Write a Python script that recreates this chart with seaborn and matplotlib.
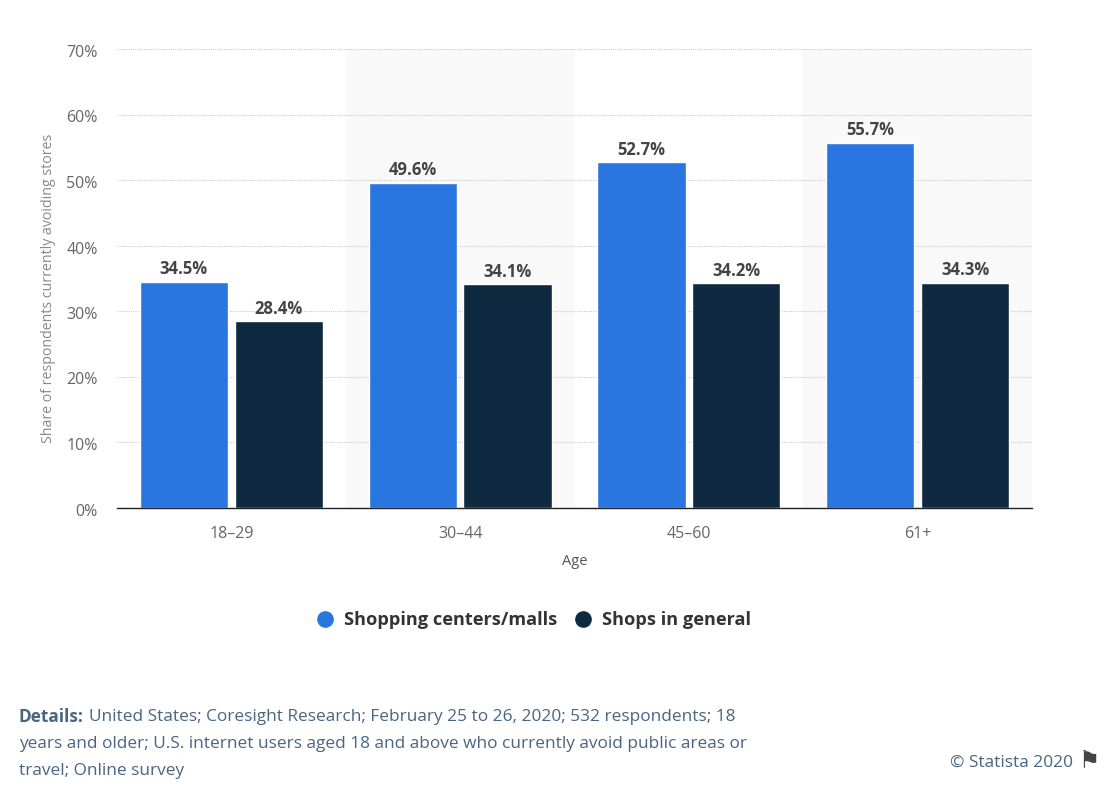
import pandas as pd
import seaborn as sns
import matplotlib.pyplot as plt
from matplotlib.lines import Line2D
from matplotlib.transforms import ScaledTranslation

ages = ['18\u201329', '30\u201344', '45\u201360', '61+']
malls = [34.5, 49.6, 52.7, 55.7]
shops = [28.4, 34.1, 34.2, 34.3]
series_names = ['Shopping centers/malls', 'Shops in general']
y_ticks = [0, 10, 20, 30, 40, 50, 60, 70]

details_lines = [
    'United States; Coresight Research; February 25 to 26, 2020; 532 respondents; 18',
    'years and older; U.S. internet users aged 18 and above who currently avoid public areas or',
    'travel; Online survey',
]

df = pd.DataFrame({'age': ages * 2,
                   'share': malls + shops,
                   'series': [series_names[0]] * 4 + [series_names[1]] * 4})

sns.set_style('white')
plt.rcParams['font.family'] = ['Open Sans', 'DejaVu Sans']

W, H = 1117, 795
colors = ['#2976e0', '#0f2a40']

fig = plt.figure(figsize=(W / 100, H / 100), dpi=100)
ax = fig.add_axes([117 / W, 1 - 507.5 / H, 915 / W, 458.5 / H])

sns.barplot(data=df, x='age', y='share', hue='series', palette=colors,
            width=0.83, gap=0.07, saturation=1, legend=False, ax=ax, zorder=3)

ax.set_xlim(-0.5, 3.5)
ax.set_ylim(0, 70)

# alternating background bands
for i in [1, 3]:
    ax.axvspan(i - 0.5, i + 0.5, color='#f9f9f9', lw=0, zorder=0)

ax.set_yticks(y_ticks)
ax.set_yticklabels([f'{v}%' for v in y_ticks])
ax.grid(axis='y', color='#cccccc', linestyle=(0, (1, 1)), linewidth=0.8, zorder=1)
ax.set_axisbelow(True)
for s in ['top', 'right', 'left']:
    ax.spines[s].set_visible(False)
ax.spines['bottom'].set_color('#222222')
ax.spines['bottom'].set_linewidth(1.0)
ax.spines['bottom'].set_zorder(5)

ax.tick_params(axis='x', length=0, pad=13, labelsize=11.5, labelcolor='#666666')
ax.tick_params(axis='y', length=0, pad=14, labelsize=11.5, labelcolor='#666666')
# y tick labels sit slightly below their gridline
shift = ScaledTranslation(0, -2 / 100, fig.dpi_scale_trans)
for lab in ax.get_yticklabels():
    lab.set_transform(lab.get_transform() + shift)

ax.set_xlabel('Age', fontsize=10.5, color='#555555', labelpad=9)
ax.set_ylabel('Share of respondents currently avoiding stores', fontsize=10.2,
              color='#888888')
ax.yaxis.set_label_coords((56 - 117) / 915, (507.5 - 288) / 458.5)

for cont in ax.containers:
    ax.bar_label(cont, fmt='%.1f%%', padding=2.5, fontsize=12, fontweight='bold',
                 color='#444444')

handles = [Line2D([], [], linestyle='', marker='o', markersize=12,
                  markerfacecolor=c, markeredgewidth=0) for c in colors]
fig.legend(handles, series_names, loc='center', bbox_to_anchor=(530.5 / W, 1 - 620 / H),
           ncol=2, frameon=False, handletextpad=0.27, handlelength=1.6, columnspacing=0.59,
           prop={'weight': 'bold', 'size': 13.1}, labelcolor='#333333')

text_col = '#4a6484'
fig.text(19 / W, 1 - 717 / H, 'Details:', fontsize=12.45, fontweight='bold',
         color=text_col, va='center')
fig.text(89 / W, 1 - 717 / H, details_lines[0], fontsize=12.45, color=text_col, va='center')
fig.text(19 / W, 1 - 744 / H, details_lines[1], fontsize=12.45, color=text_col, va='center')
fig.text(19 / W, 1 - 771 / H, details_lines[2], fontsize=12.45, color=text_col, va='center')
fig.text(1073 / W, 1 - 763 / H, '© Statista 2020', fontsize=12.45, color=text_col,
         ha='right', va='center')
fig.text(1079 / W, 1 - 761 / H, '\u2691', fontsize=17, color='#444444',
         family='DejaVu Sans', ha='left', va='center')

fig.savefig('out.png', dpi=100)
